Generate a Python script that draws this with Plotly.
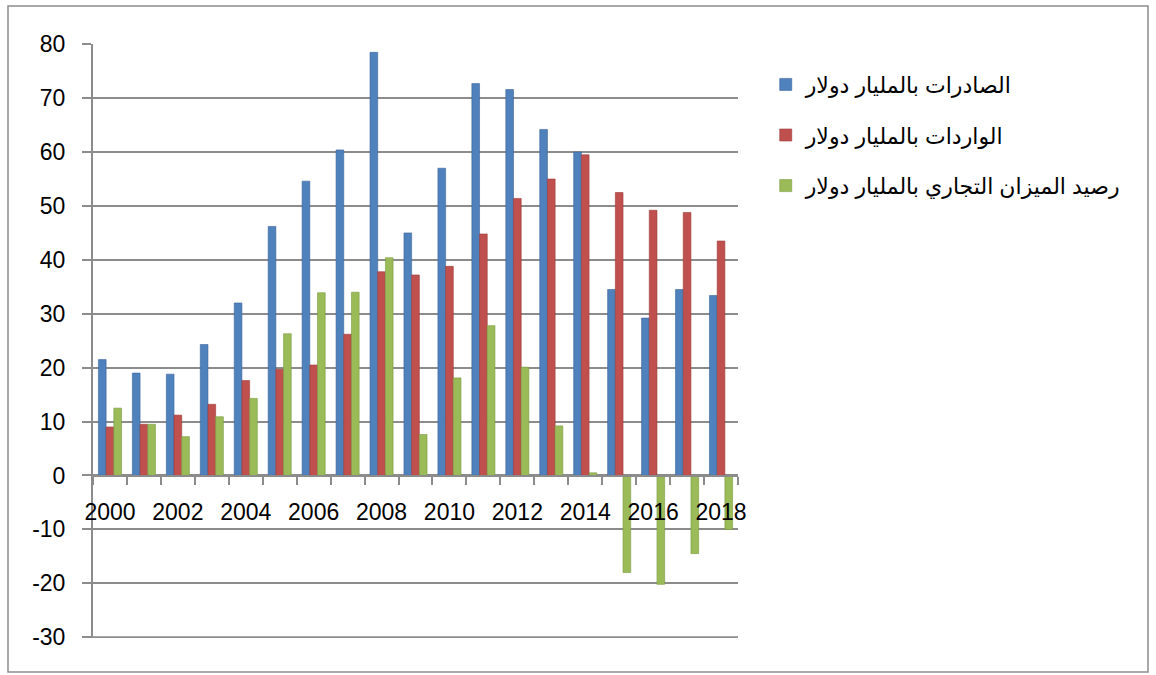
import plotly.graph_objects as go

years = list(range(2000, 2019))
exports = [21.5, 19.0, 18.8, 24.3, 32.0, 46.2, 54.6, 60.4, 78.5, 45.0,
           57.0, 72.7, 71.6, 64.2, 60.0, 34.5, 29.2, 34.5, 33.4]
imports = [9.0, 9.5, 11.2, 13.2, 17.6, 19.7, 20.5, 26.2, 37.8, 37.2,
           38.8, 44.8, 51.4, 55.0, 59.5, 52.5, 49.2, 48.8, 43.5]
balance = [12.5, 9.5, 7.2, 10.9, 14.3, 26.3, 33.9, 34.0, 40.4, 7.6,
           18.1, 27.8, 20.1, 9.2, 0.5, -18.0, -20.2, -14.5, -10.0]

names = ["الصادرات بالمليار دولار",
         "الواردات بالمليار دولار",
         "رصيد الميزان التجاري بالمليار دولار"]
colors = ["#4F81BD", "#C0504D", "#9BBB59"]
edges = ["#3A6599", "#9A3B39", "#789A3F"]

y_ticks = list(range(-30, 81, 10))
y_labels = [str(v) for v in y_ticks]  # plain hyphen minus
x_ticks = years[::2]
boundaries = [y - 0.5 for y in years] + [years[-1] + 0.5]

FONT = "Liberation Sans, Arial, DejaVu Sans, sans-serif"
GRID = "#8c8c8c"

fig = go.Figure()
for i, (vals, name) in enumerate(zip([exports, imports, balance], names)):
    fig.add_trace(go.Bar(
        x=years, y=vals, name=name,
        marker=dict(color=colors[i], line=dict(color=edges[i], width=0.6)),
        legendgroup=str(i),
    ))

fig.update_layout(
    width=1156, height=675,
    paper_bgcolor="white", plot_bgcolor="white",
    margin=dict(l=93, r=418, t=44, b=37),
    barmode="group", bargap=0.32, bargroupgap=0,
    font=dict(family=FONT, color="black"),
    showlegend=True,
    legend=dict(
        x=1.043, y=0.967, xanchor="left", yanchor="top",
        font=dict(size=22, family=FONT, color="black"),
        traceorder="grouped", tracegroupgap=19,
        bgcolor="rgba(0,0,0,0)",
    ),
    xaxis=dict(
        range=[years[0] - 0.5, years[-1] + 0.5],
        anchor="free", position=30 / 110,
        tickvals=x_ticks, ticktext=[str(v) for v in x_ticks],
        ticks="", ticklabelstandoff=15,
        tickfont=dict(size=23, family=FONT, color="black"),
        showgrid=False, showline=True, linecolor=GRID, linewidth=2,
        minor=dict(tickvals=boundaries, ticks="outside", ticklen=8,
                   tickcolor=GRID, tickwidth=2, showgrid=False),
        zeroline=False,
    ),
    yaxis=dict(
        range=[-30.15, 80.05], tickvals=y_ticks, ticktext=y_labels,
        ticks="outside", ticklen=9, tickcolor=GRID, tickwidth=2,
        ticklabelstandoff=12,
        tickfont=dict(size=23, family=FONT, color="black"),
        showgrid=True, gridcolor=GRID, gridwidth=2,
        showline=True, linecolor=GRID, linewidth=2,
        zeroline=True, zerolinecolor=GRID, zerolinewidth=2,
        mirror=False,
    ),
    shapes=[
        dict(type="rect", xref="paper", yref="paper",
             x0=(8 - 93) / 645, x1=(1148 - 93) / 645,
             y0=(638 - 672) / 594, y1=(638 - 6) / 594,
             line=dict(color="#8c8c8c", width=1.5), layer="below"),
        dict(type="line", xref="paper", yref="y",
             x0=0, x1=1, y0=y_ticks[0], y1=y_ticks[0],
             line=dict(color=GRID, width=2), layer="below"),
    ],
)

fig.write_html("out.html", config={"displayModeBar": False},
               post_script="document.body.style.margin='0';document.body.style.overflow='hidden';")
